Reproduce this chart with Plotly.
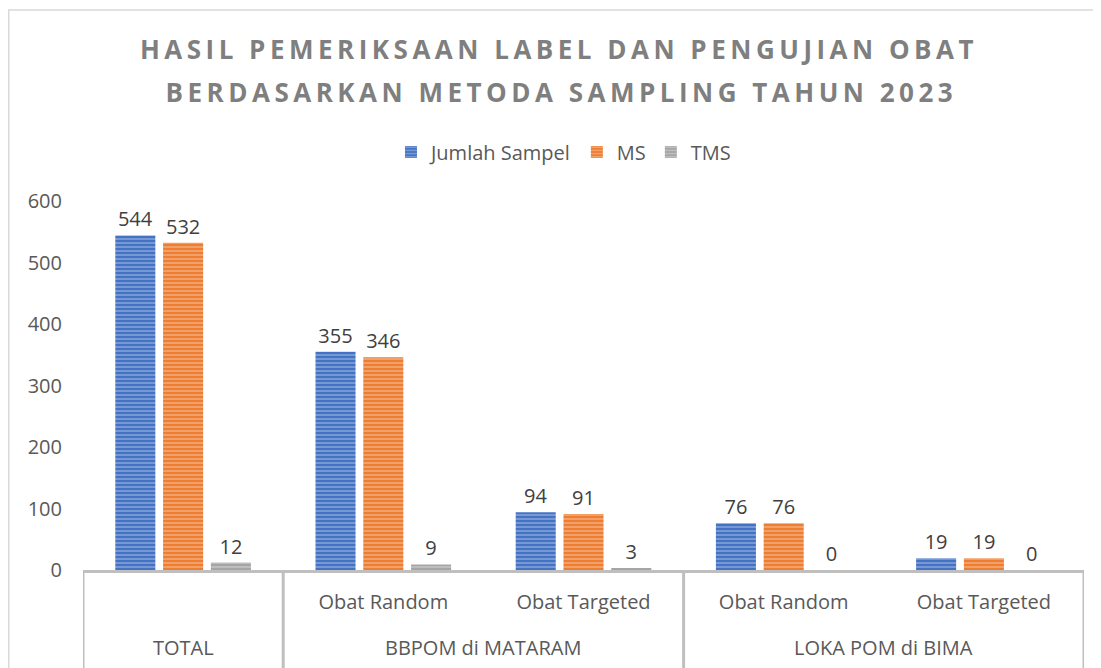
import plotly.graph_objects as go

# ---- data ----
groups = ["TOTAL", "BBPOM di MATARAM", "LOKA POM di BIMA"]
sub_labels = ["", "Obat Random", "Obat Targeted", "Obat Random", "Obat Targeted"]
group_centers = [0, 1.5, 3.5]
group_edges = [-0.5, 0.5, 2.5, 4.5]
jumlah_sampel = [544, 355, 94, 76, 19]
ms = [532, 346, 91, 76, 19]
tms = [12, 9, 3, 0, 0]
series_names = ["Jumlah Sampel", "MS", "TMS"]
title_line1 = "HASIL PEMERIKSAAN LABEL DAN PENGUJIAN OBAT"
title_line2 = "BERDASARKAN METODA SAMPLING TAHUN 2023"

FONT = "Open Sans"
FS = 20
base_colors = ["#4472C4", "#ED7D31", "#A5A5A5"]
stripe_colors = ["#B4C7E7", "#F8CBAD", "#DBDBDB"]

# page body has an 8px margin: the figure is placed at (8, 8)
W, H = 1093, 660
L, T, PW, PH = 75, 193, 1001, 369

x_pos = list(range(len(sub_labels)))
fig = go.Figure()
for name, vals, bc, sc in zip(series_names, [jumlah_sampel, ms, tms], base_colors, stripe_colors):
    fig.add_trace(go.Bar(
        name=name, x=x_pos, y=vals,
        text=[str(v) for v in vals], textposition="outside",
        textfont=dict(family=FONT, size=FS, color="#404040"),
        constraintext="none", cliponaxis=False,
        marker=dict(color=bc, line=dict(width=0),
                    pattern=dict(shape="-", fgcolor=sc, bgcolor=bc, size=4, solidity=0.45)),
    ))

AX = "#BFBFBF"
shapes = []
for e in group_edges:
    shapes.append(dict(type="line", xref="x", yref="paper", x0=e, x1=e, y0=0, y1=-0.27,
                       line=dict(color=AX, width=3)))
shapes.append(dict(type="rect", xref="paper", yref="paper",
                   x0=(0.75 - L) / PW, x1=(W + 20 - L) / PW,
                   y0=-0.35, y1=(T + PH - 2) / PH,
                   line=dict(color="#D9D9D9", width=1.5), layer="below"))

annotations = []
for g, c in zip(groups, group_centers):
    annotations.append(dict(text=g, x=c, xref="x", y=-77 / PH, yref="paper",
                            yanchor="middle", xanchor="center", showarrow=False,
                            font=dict(family=FONT, size=FS, color="#595959")))
annotations.append(dict(text=title_line2, x=(553 - L) / PW, xref="paper",
                        y=(T + PH - 84) / PH, yref="paper", xanchor="center", yanchor="middle",
                        showarrow=False,
                        font=dict(family=FONT, size=26, color="#7F7F7F", weight="bold")))

fig.update_layout(
    width=W, height=H,
    margin=dict(l=L, r=W - L - PW, t=T, b=H - T - PH),
    paper_bgcolor="white", plot_bgcolor="white",
    barmode="group", bargap=0.284, bargroupgap=0.162,
    title=dict(text=title_line1, x=551 / W, xanchor="center", y=1 - 42 / H, yanchor="middle",
               font=dict(family=FONT, size=26, color="#7F7F7F", weight="bold")),
    legend=dict(orientation="h", x=0.48, xanchor="center", y=(570 - 152) / PH, yanchor="middle",
                font=dict(family=FONT, size=FS, color="#595959"), itemwidth=30,
                bgcolor="rgba(0,0,0,0)"),
    xaxis=dict(range=[-0.5, 4.5], tickvals=x_pos, ticktext=sub_labels, showgrid=False,
               zeroline=False, showline=True, linecolor=AX, linewidth=3, ticks="",
               ticklabelstandoff=12,
               tickfont=dict(family=FONT, size=FS, color="#595959")),
    yaxis=dict(range=[0, 600], tickvals=[0, 100, 200, 300, 400, 500, 600], showgrid=False,
               zeroline=False, showline=False, ticks="", ticklabelstandoff=20,
               tickfont=dict(family=FONT, size=FS, color="#595959")),
    shapes=shapes, annotations=annotations,
)

post = """
var gd = document.getElementById('{plot_id}');
gd.querySelectorAll('.gtitle').forEach(function(t){ t.style.letterSpacing = '4.5px'; });
gd.querySelectorAll('.annotation-text').forEach(function(t){
  if (t.textContent.indexOf('BERDASARKAN') === 0) { t.style.letterSpacing = '4.5px'; }
});
"""
fig.write_html("out.html", post_script=post)
